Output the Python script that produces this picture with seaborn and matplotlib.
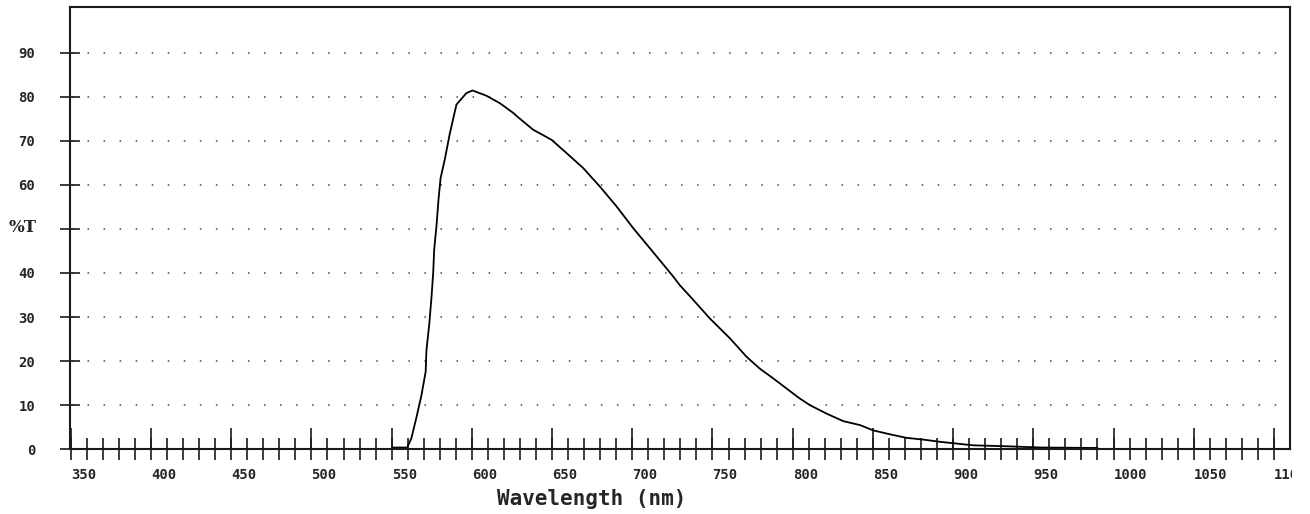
import numpy as np
import pandas as pd
import matplotlib
import matplotlib.pyplot as plt
import seaborn as sns
from matplotlib.transforms import Bbox, TransformedBbox

# transmission curve
wavelength = [550.6, 559.7, 562.3, 565.5, 568.6, 571.2, 571.7, 573.4, 574.8, 575.9,
              576.5, 578.0, 579.2, 580.5, 583.1, 586.3, 590.4, 596.6, 600.4, 609.1,
              617.5, 625.8, 628.9, 638.2, 649.7, 659.0, 669.4, 679.8, 690.2, 700.5,
              711.0, 725.5, 729.7, 738.0, 748.3, 760.8, 771.2, 779.5, 787.8, 804.5,
              810.8, 821.1, 831.4, 841.9, 850.1, 860.6, 870.9, 881.4, 891.8, 902.1,
              912.5, 932.3, 955.0, 990.0]
transmission = [0.4, 0.4, 2.5, 7.3, 12.3, 17.6, 22.5, 28.2, 34.3, 40.0,
                45.2, 50.9, 56.6, 61.5, 65.7, 71.7, 78.2, 80.8, 81.4, 80.2,
                78.5, 76.3, 75.3, 72.5, 70.2, 67.2, 63.8, 59.6, 55.1, 50.2,
                45.6, 39.2, 37.2, 33.9, 29.7, 25.2, 21.0, 18.3, 16.1, 11.5,
                10.0, 8.1, 6.4, 5.5, 4.3, 3.4, 2.6, 2.2, 1.7, 1.3,
                0.9, 0.7, 0.4, 0.3]

x_major = list(range(350, 1101, 50))
x_minor = list(range(350, 1101, 10))
y_ticks = list(range(0, 91, 10))
# the 50 slot carries the axis name instead of a number
y_labels = ['' if v == 50 else str(v) for v in y_ticks]

df = pd.DataFrame({'wavelength': wavelength, 'T': transmission})

sns.set_style('white')
plt.rcParams['font.family'] = ['DejaVu Sans Mono']
plt.rcParams['font.weight'] = 'bold'
plt.rcParams['lines.scale_dashes'] = False

W, H = 1310, 514
fig = plt.figure(figsize=(W / 100, H / 100), dpi=100)
ax = fig.add_axes([70 / W, (H - 449.3) / H, 1220 / W, (449.3 - 6.7) / H])

sns.lineplot(data=df, x='wavelength', y='T', ax=ax, color='black', lw=1.3,
             estimator=None, sort=False, legend=False)

ax.set_xlim(349.5, 1110)
ax.set_ylim(0, 100.4)

ink = '#1a1a1a'
for s in ax.spines.values():
    s.set_visible(True)
    s.set_color(ink)
    s.set_linewidth(1.5)

ax.set_xticks(x_major)
ax.set_xticklabels([str(v) for v in x_major], fontsize=10, fontweight='bold', ha='left')
ax.set_xticks(x_minor, minor=True)
ax.xaxis.remove_overlapping_locs = False
ax.tick_params(axis='x', which='major', direction='in', length=15.2, width=1.2,
               color=ink, pad=13.5, bottom=True, top=False)
ax.tick_params(axis='x', which='minor', direction='inout', length=16, width=1.2,
               color=ink, bottom=True, top=False)

ax.set_yticks(y_ticks)
ax.set_yticklabels(y_labels, fontsize=10, fontweight='bold')
ax.tick_params(axis='y', direction='inout', length=15, width=1.2, color=ink,
               pad=17.6, left=True, right=False)

# dotted grid, one dot per 10 nm
ax.grid(axis='y', color='#444444', lw=1.1, linestyle=(10.47, (1.1, 10.45)))
ax.grid(axis='x', visible=False)

# the last label is cut off at the frame, as in the scan
clip = TransformedBbox(Bbox([[0, 0], [1292 / W, 1]]), fig.transFigure)
last = ax.get_xticklabels()[-1]
last.set_clip_box(clip)
last.set_clip_on(True)

ax.set_xlabel('Wavelength (nm)', fontsize=15, fontweight='bold', va='center')
ax.xaxis.set_label_coords((591.5 - 70) / 1220, -49.7 / 442.6)
ax.set_ylabel('%T', fontsize=12, fontweight='bold', family='DejaVu Serif',
              rotation=0, ha='right', va='center')
ax.yaxis.set_label_coords(-33 / 1220, 0.5)

fig.savefig('out.png', dpi=100)
